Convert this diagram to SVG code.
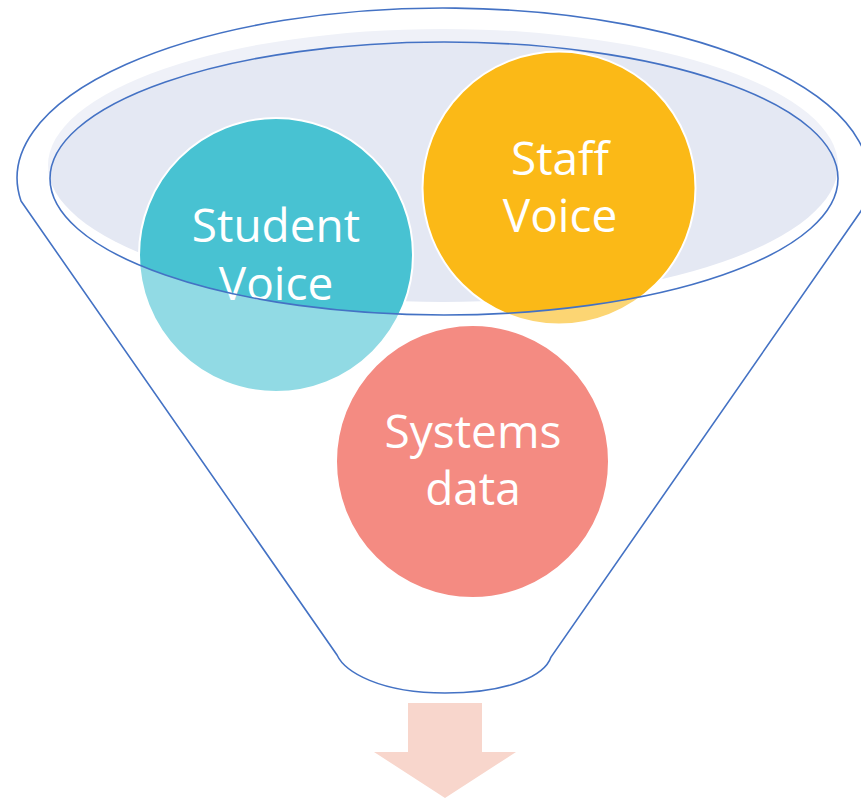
<svg xmlns="http://www.w3.org/2000/svg" width="861" height="798" viewBox="0 0 861 798">
<style>
.lbl{font-family:"Open Sans","Noto Sans","Liberation Sans",sans-serif;font-size:46px;fill:#FFFFFF;text-anchor:middle}
.node{stroke:#FFFFFF;stroke-width:2}
.edge{fill:none;stroke:#4472C4;stroke-width:1.6}
</style>
<rect width="861" height="798" fill="#FFFFFF"/>
<g id="funnel-fill">
<ellipse cx="443" cy="165.5" rx="395" ry="136.5" fill="#E4E8F3"/>
</g>
<g id="student-voice">
<circle class="node" cx="276" cy="255" r="137" fill="#48C2D2"/>
<text class="lbl" x="276" y="242">Student</text>
<text class="lbl" x="276" y="300">Voice</text>
</g>
<g id="staff-voice">
<circle class="node" cx="559" cy="188" r="136.5" fill="#FBB917"/>
<text class="lbl" x="560" y="175">Staff</text>
<text class="lbl" x="560" y="232">Voice</text>
</g>
<g id="funnel-overlay">
<path fill="#FFFFFF" fill-opacity="0.4" fill-rule="evenodd" d="M21,201 A426,170 0 1 1 861,211 L551,657 C545,675 510,693 445,693 C380,693 345,672 337,655 Z M50,178.5 A394,136.5 0 1 0 838,178.5 A394,136.5 0 1 0 50,178.5 Z"/>
</g>
<g id="connectors">
<path class="edge" d="M21,201 A426,170 0 1 1 861,211 M861,211 L551,657 C545,675 510,693 445,693 C380,693 345,672 337,655 L21,201"/>
<ellipse class="edge" cx="444" cy="178.5" rx="394" ry="136.5"/>
</g>
<g id="systems-data">
<circle class="node" cx="472.5" cy="461.5" r="136.5" fill="#F48B82"/>
<text class="lbl" x="473" y="448">Systems</text>
<text class="lbl" x="473" y="505">data</text>
</g>
<g id="output-arrow">
<polygon points="408,703 482,703 482,752 516,752 445,798 374,752 408,752" fill="#F8D6CC"/>
</g>
</svg>
